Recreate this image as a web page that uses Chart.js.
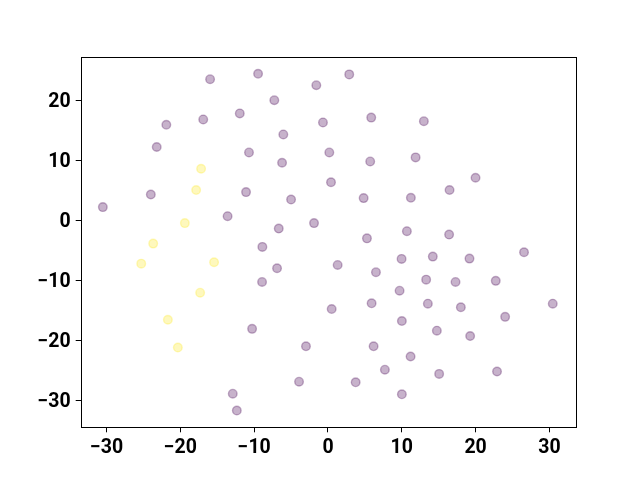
<!DOCTYPE html>
<html lang="en">
<head>
  <meta charset="UTF-8" />
  <title>Scatter</title>
  <script src="https://cdn.jsdelivr.net/npm/chart.js"></script>
  <style>
    html, body { margin: 0; padding: 0; background: #fff; }
    #wrap { width: 640px; height: 480px; }
  </style>
</head>
<body>
  <div id="wrap"><canvas id="chart" width="640" height="480"></canvas></div>
  <script>
    // cluster 0 (purple)
    const purpleX = [-15.97, -9.47, -1.58, -7.27, -11.95, -16.9, -21.9, -0.68, -6.05, -23.2,
      -10.7, -6.22, 0.18, -24.0, -11.1, -30.5, -5.0, 0.41, -13.6, -6.67,
      -1.89, -8.89, 2.88, 5.86, 12.99, 5.72, 11.87, 19.99, 16.47, 4.83,
      11.23, 5.28, 10.69, 16.41, -6.9, -8.93, -10.28, -2.98, -3.92, -12.9,
      -12.35, 1.31, 9.97, 14.2, 19.17, 26.56, 6.5, 13.3, 17.28, 22.73,
      9.7, 0.5, 5.91, 13.53, 18.0, 30.45, 24.0, 10.01, 14.75, 19.26,
      6.18, 11.19, 7.71, 15.06, 22.9, 3.75, 10.01];
    const purpleY = [23.6, 24.5, 22.6, 20.1, 17.9, 16.9, 16.0, 16.4, 14.4, 12.3,
      11.4, 9.68, 11.4, 4.39, 4.79, 2.29, 3.56, 6.43, 0.78, -1.29,
      -0.38, -4.34, 24.4, 17.2, 16.6, 9.9, 10.57, 7.18, 5.13, 3.79,
      3.84, -2.92, -1.72, -2.29, -7.9, -10.18, -18.0, -20.9, -26.8, -28.8,
      -31.6, -7.35, -6.34, -5.96, -6.29, -5.23, -8.56, -9.8, -10.18, -10.0,
      -11.64, -14.7, -13.74, -13.8, -14.4, -13.8, -16.0, -16.7, -18.3, -19.2,
      -20.9, -22.6, -24.8, -25.5, -25.1, -26.9, -28.9];
    // cluster 1 (yellow)
    const yellowX = [-17.19, -17.86, -19.39, -23.68, -25.3, -15.43, -17.32, -21.69, -20.34];
    const yellowY = [8.68, 5.13, -0.38, -3.79, -7.13, -6.9, -11.97, -16.48, -21.1];

    const xTicks = [-30, -20, -10, 0, 10, 20, 30];
    const yTicks = [-30, -20, -10, 0, 10, 20];

    const toPoints = (xs, ys) => xs.map((x, i) => ({ x: x, y: ys[i] }));
    const minus = v => String(v).replace('-', '\u2212');

    // matplotlib style box around the axes
    const frame = {
      id: 'frame',
      afterDraw(chart) {
        const a = chart.chartArea;
        const ctx = chart.ctx;
        ctx.save();
        ctx.strokeStyle = '#000';
        ctx.lineWidth = 1;
        ctx.strokeRect(Math.round(a.left) + 0.5, Math.round(a.top) + 0.5,
          Math.round(a.right - a.left), Math.round(a.bottom - a.top));
        ctx.restore();
      }
    };

    const tickFont = { family: 'Roboto', size: 19.5, weight: 'bold' };

    new Chart(document.getElementById('chart'), {
      type: 'scatter',
      data: {
        datasets: [
          {
            data: toPoints(purpleX, purpleY),
            backgroundColor: 'rgba(68,1,84,0.3)',
            borderColor: 'rgba(68,1,84,0.3)',
            borderWidth: 1.4,
            pointRadius: 4.3,
            pointHoverRadius: 4.3
          },
          {
            data: toPoints(yellowX, yellowY),
            backgroundColor: 'rgba(253,231,37,0.3)',
            borderColor: 'rgba(253,231,37,0.3)',
            borderWidth: 1.4,
            pointRadius: 4.3,
            pointHoverRadius: 4.3
          }
        ]
      },
      options: {
        responsive: false,
        animation: false,
        layout: { padding: { left: 0, top: 57, right: 64, bottom: 0 } },
        plugins: { legend: { display: false }, tooltip: { enabled: false } },
        scales: {
          x: {
            type: 'linear',
            min: -33.5,
            max: 33.6,
            afterBuildTicks: s => { s.ticks = xTicks.map(v => ({ value: v })); },
            afterFit: s => { s.height = 52.7; },
            grid: { drawOnChartArea: false, drawTicks: true, tickLength: 5, color: '#000', tickWidth: 1 },
            border: { display: false },
            ticks: { color: '#000', font: tickFont, padding: 4, maxRotation: 0, callback: v => minus(v) }
          },
          y: {
            type: 'linear',
            min: -34.4,
            max: 27.3,
            afterBuildTicks: s => { s.ticks = yTicks.map(v => ({ value: v })); },
            afterFit: s => { s.width = 80.7; },
            grid: { drawOnChartArea: false, drawTicks: true, tickLength: 5, color: '#000', tickWidth: 1 },
            border: { display: false },
            ticks: { color: '#000', font: tickFont, padding: 5, labelOffset: 1.5, callback: v => minus(v) }
          }
        }
      },
      plugins: [frame]
    });
  </script>
</body>
</html>
